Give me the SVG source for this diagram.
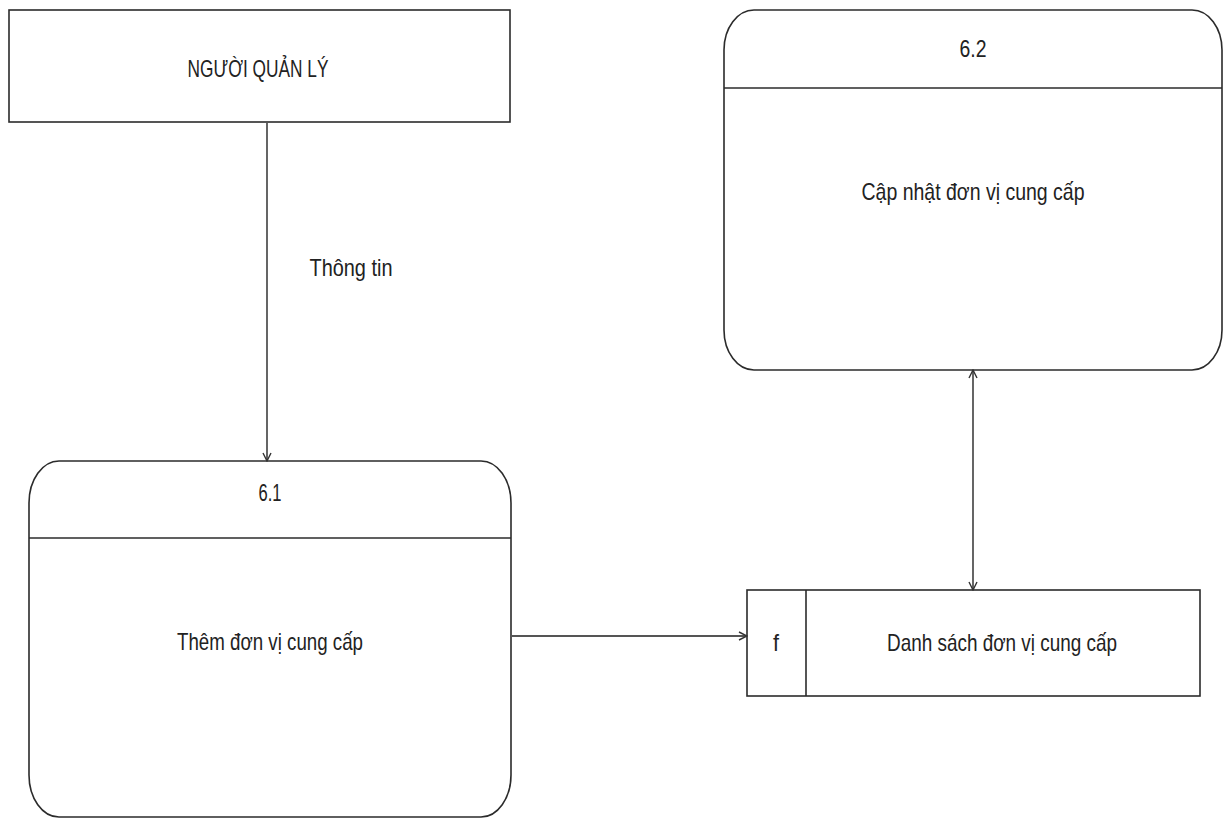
<svg xmlns="http://www.w3.org/2000/svg" width="1224" height="818" viewBox="0 0 1224 818">
  <style>
    .box { fill: #ffffff; stroke: #2b2b2b; stroke-width: 1.6; }
    .sep { stroke: #2b2b2b; stroke-width: 1.6; fill: none; }
    .lbl { font-family: "Liberation Sans", Arial, sans-serif; font-size: 24px; fill: #222222; text-anchor: middle; }
    .flow { stroke: #555555; stroke-width: 1.8; fill: none; }
  </style>
  <defs>
    <marker id="open-arrow" viewBox="0 0 10 10" refX="9" refY="5" markerWidth="10" markerHeight="10" markerUnits="userSpaceOnUse" orient="auto-start-reverse">
      <path d="M1,1 L9,5 L1,9" fill="none" stroke="#333333" stroke-width="1.4"/>
    </marker>
  </defs>

  <rect width="1224" height="818" fill="#ffffff"/>

  <!-- External entity -->
  <g id="nguoi-quan-ly">
    <rect class="box" x="9" y="10" width="501" height="112"/>
    <text class="lbl" x="258" y="77" textLength="141" lengthAdjust="spacingAndGlyphs">NGƯỜI QUẢN LÝ</text>
  </g>

  <!-- Process 6.1 -->
  <g id="process-6-1">
    <rect class="box" x="29" y="461" width="482" height="356" rx="30" ry="42"/>
    <line class="sep" x1="29" y1="538" x2="511" y2="538"/>
    <text class="lbl" x="270" y="501" textLength="23" lengthAdjust="spacingAndGlyphs">6.1</text>
    <text class="lbl" x="270" y="650" textLength="186" lengthAdjust="spacingAndGlyphs">Thêm đơn vị cung cấp</text>
  </g>

  <!-- Process 6.2 -->
  <g id="process-6-2">
    <rect class="box" x="724" y="10" width="498" height="360" rx="30" ry="40"/>
    <line class="sep" x1="724" y1="88" x2="1222" y2="88"/>
    <text class="lbl" x="973" y="57" textLength="27" lengthAdjust="spacingAndGlyphs">6.2</text>
    <text class="lbl" x="973" y="200" textLength="223" lengthAdjust="spacingAndGlyphs">Cập nhật đơn vị cung cấp</text>
  </g>

  <!-- Data store -->
  <g id="danh-sach-don-vi">
    <rect class="box" x="747" y="590" width="453" height="106"/>
    <line class="sep" x1="806" y1="590" x2="806" y2="696"/>
    <text class="lbl" x="776" y="651" textLength="6" lengthAdjust="spacingAndGlyphs">f</text>
    <text class="lbl" x="1002" y="651" textLength="230" lengthAdjust="spacingAndGlyphs">Danh sách đơn vị cung cấp</text>
  </g>

  <!-- Data flows -->
  <g id="connectors">
    <line class="flow" x1="267" y1="122" x2="267" y2="461" marker-end="url(#open-arrow)"/>
    <text class="lbl" x="351" y="276" textLength="83" lengthAdjust="spacingAndGlyphs">Thông tin</text>
    <line class="flow" x1="511" y1="636" x2="747" y2="636" marker-end="url(#open-arrow)"/>
    <line class="flow" x1="973" y1="370" x2="973" y2="590" marker-start="url(#open-arrow)" marker-end="url(#open-arrow)"/>
  </g>
</svg>
